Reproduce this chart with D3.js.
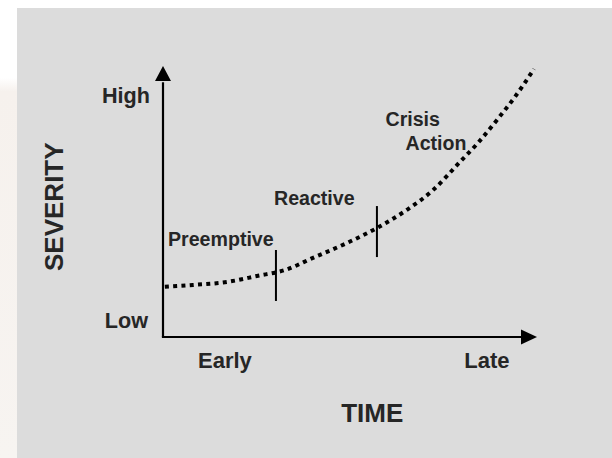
<!DOCTYPE html>
<html><head><meta charset="utf-8">
<script src="https://cdn.jsdelivr.net/npm/d3@7"></script>
<style>html,body{margin:0;padding:0;background:#fff;}svg{display:block;}</style>
</head><body>
<script>
// Data (abstract 0-100 units on both axes)
const curveX = [0.5, 8.0, 17.1, 25.1, 32.6, 40.1, 49.2, 57.2, 65.2, 72.2, 79.4, 84.2, 89.3, 94.1, 99.2];
const curveY = [18.5, 19.2, 20.3, 22.5, 24.7, 29.2, 34.7, 40.2, 46.9, 54.2, 64.6, 71.6, 80.1, 88.6, 98.9];
const phaseBoundaries = [30.2, 57.2];
const phaseLabels = ["Preemptive", "Reactive", "Crisis Action"];
const yTickLabels = ["Low", "High"];
const xTickLabels = ["Early", "Late"];
const xTitle = "TIME";
const yTitle = "SEVERITY";

const W = 612, H = 458;
const svg = d3.select("body").append("svg").attr("width", W).attr("height", H);
const defs = svg.append("defs");
const g1 = defs.append("linearGradient").attr("id","strip").attr("x1",0).attr("y1",0).attr("x2",0).attr("y2",1);
g1.append("stop").attr("offset","0").attr("stop-color","#ffffff");
g1.append("stop").attr("offset","0.17").attr("stop-color","#ffffff");
g1.append("stop").attr("offset","0.2").attr("stop-color","#f6f1ed");
g1.append("stop").attr("offset","1").attr("stop-color","#f7f4f1");
svg.append("rect").attr("x",0).attr("y",0).attr("width",W).attr("height",H).attr("fill","#fff");
svg.append("rect").attr("x",0).attr("y",0).attr("width",17).attr("height",H).attr("fill","url(#strip)");
svg.append("rect").attr("x",17).attr("y",8).attr("width",W-17).attr("height",H-8).attr("fill","#dcdcdc");

const x = d3.scaleLinear().domain([0,100]).range([163,537]);
const y = d3.scaleLinear().domain([0,100]).range([337,66]);
const ink = "#000";
const txt = "#262626";
const font = "'Liberation Sans', Arial, Helvetica, sans-serif";

// axes
svg.append("line").attr("x1",x(0)).attr("y1",y(0)).attr("x2",x(0)).attr("y2",y(94)).attr("stroke",ink).attr("stroke-width",2.2);
svg.append("line").attr("x1",x(0)-1.1).attr("y1",y(0)).attr("x2",x(96)).attr("y2",y(0)).attr("stroke",ink).attr("stroke-width",2.2);
// arrowheads
const ax = x(0), ay = y(100);
svg.append("path").attr("d",`M${ax},${ay} L${ax-8},${ay+15} L${ax+8},${ay+15} Z`).attr("fill",ink);
const bx = x(100), by = y(0);
svg.append("path").attr("d",`M${bx},${by} L${bx-16},${by-7.5} L${bx-16},${by+7.5} Z`).attr("fill",ink);

// curve
const pts = curveX.map((v,i)=>[v, curveY[i]]);
const line = d3.line().x(d=>x(d[0])).y(d=>y(d[1])).curve(d3.curveMonotoneX);
svg.append("path").attr("d", line(pts)).attr("fill","none").attr("stroke",ink)
  .attr("stroke-width",4).attr("stroke-dasharray","4,4.3");

// phase boundary ticks
const interp = v => {
  for (let i=1;i<pts.length;i++){ if (v<=pts[i][0]) { const t=(v-pts[i-1][0])/(pts[i][0]-pts[i-1][0]); return pts[i-1][1]+t*(pts[i][1]-pts[i-1][1]); } }
  return pts[pts.length-1][1];
};
phaseBoundaries.forEach(b=>{
  const cy = y(interp(b));
  svg.append("line").attr("x1",x(b)).attr("x2",x(b)).attr("y1",cy-22).attr("y2",cy+29)
    .attr("stroke",ink).attr("stroke-width",2);
});

function t(s, px, py, size, anchor){
  return svg.append("text").attr("x",px).attr("y",py).text(s)
    .attr("font-family",font).attr("font-weight","bold").attr("font-size",size)
    .attr("fill",txt).attr("text-anchor",anchor||"start");
}
// phase labels
t(phaseLabels[0], 168, 245.5, 19.6);
t(phaseLabels[1], 274, 205.3, 19.6);
const ca = phaseLabels[2].split(" ");
t(ca[0], 385.5, 126, 19.6);
t(ca[1], 405.5, 150, 19.6);

// tick labels
t(yTickLabels[1], 150, 102.5, 21.6, "end");
t(yTickLabels[0], 148, 328.3, 21.6, "end");
t(xTickLabels[0], 198, 368, 22);
t(xTickLabels[1], 509.5, 368, 22, "end");

// titles
t(xTitle, 372.3, 421.7, 26, "middle");
t(yTitle, 0, 0, 26, "middle").attr("transform","translate(62.5,206.7) rotate(-90)");
</script>
</body></html>
